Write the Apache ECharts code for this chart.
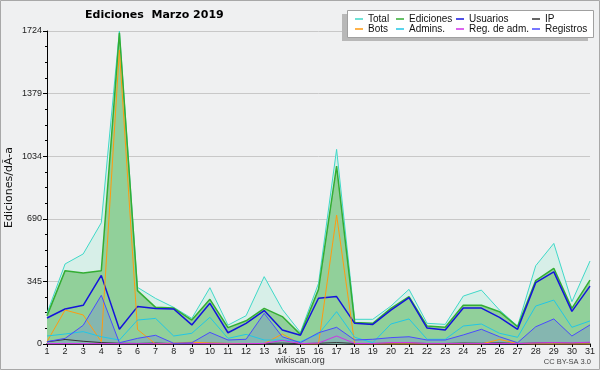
<!DOCTYPE html>
<html><head><meta charset="utf-8">
<script src="https://cdn.jsdelivr.net/npm/echarts@6/dist/echarts.min.js"></script>
<style>html,body{margin:0;padding:0;background:#eff0f1}#c{width:600px;height:370px}</style>
</head><body><div id="c"></div>
<script>
var days = ['1','2','3','4','5','6','7','8','9','10','11','12','13','14','15','16','17','18','19','20','21','22','23','24','25','26','27','28','29','30','31'];
var yTicks = [0, 345, 690, 1034, 1379, 1724];
var total     = [170, 441, 496, 668, 1724, 312, 251, 202, 141, 310, 104, 156, 371, 191, 64, 334, 1072, 136, 136, 209, 301, 114, 108, 264, 297, 187, 99, 431, 554, 233, 457];
var ediciones = [155, 404, 391, 404, 1714, 294, 202, 198, 132, 246, 90, 128, 196, 151, 53, 301, 980, 119, 114, 196, 261, 99, 92, 213, 213, 178, 95, 349, 417, 196, 352];
var usuarios  = [143, 193, 213, 378, 81, 206, 196, 193, 105, 224, 62, 114, 184, 77, 48, 252, 261, 114, 108, 187, 255, 88, 77, 198, 198, 147, 81, 338, 397, 180, 319];
var ip        = [12, 25, 15, 8, 4, 3, 5, 2, 3, 4, 3, 2, 3, 5, 2, 4, 8, 3, 3, 4, 5, 3, 3, 5, 4, 6, 3, 5, 6, 4, 5];
var bots      = [13, 187, 160, 13, 1619, 80, 0, 5, 10, 5, 3, 3, 2, 55, 0, 0, 710, 0, 0, 0, 0, 0, 0, 0, 0, 25, 3, 0, 0, 0, 0];
var admins    = [44, 55, 68, 40, 22, 132, 141, 44, 59, 147, 31, 53, 22, 22, 13, 55, 178, 37, 7, 110, 138, 26, 26, 99, 110, 59, 37, 209, 242, 92, 127];
var regAdm    = [2, 3, 2, 2, 2, 2, 2, 1, 2, 2, 1, 2, 3, 20, 2, 5, 44, 3, 2, 8, 8, 2, 2, 2, 2, 3, 2, 6, 8, 6, 10];
var registros = [13, 31, 103, 268, 7, 31, 48, 4, 7, 64, 22, 26, 169, 40, 7, 62, 92, 22, 26, 35, 40, 22, 22, 50, 81, 40, 7, 95, 138, 44, 105];

var chart = echarts.init(document.getElementById('c'), null, {renderer:'canvas'});
function ser(name, data, color, width, area, z) {
  var s = {name:name, type:'line', data:data, showSymbol:false, symbol:'none', z: z||2,
    lineStyle:{color:color, width:width}, itemStyle:{color:color}, animation:false};
  if (area) s.areaStyle = {color: area, opacity: 1};
  return s;
}
var lf = {fontFamily:'Liberation Sans', fontSize:10, color:'#111', lineHeight:10};
function lg(names, left) {
  return {data:names, orient:'vertical', left:left, top:14, itemGap:0, itemWidth:8, itemHeight:1.5,
    icon:'rect', textStyle:lf, padding:0, z:10, selectedMode:false};
}
chart.setOption({
  backgroundColor:'#eff0f1',
  animation:false,
  title:{text:'Ediciones  Marzo 2019', left:85, top:10, padding:0,
    textStyle:{fontFamily:'DejaVu Sans', fontWeight:'bold', fontSize:11, color:'#000'}},
  legend:[lg(['Total','Bots'],355), lg(['Ediciones','Admins.'],396), lg(['Usuarios','Reg. de adm.'],456), lg(['IP','Registros'],532)],
  grid:{left:47, right:10, top:31, bottom:26, containLabel:false, outerBoundsMode:'none'},
  xAxis:{type:'category', data:days, boundaryGap:false,
    axisLine:{lineStyle:{color:'#000', width:1.5}},
    axisTick:{length:3, lineStyle:{color:'#000'}},
    axisLabel:{margin:3, fontFamily:'Liberation Sans', fontSize:9, color:'#222', interval:0},
    splitLine:{show:false}},
  yAxis:{type:'value', min:0, max:yTicks[5], interval:yTicks[5]/5,
    name:'Ediciones/dÃ-a', nameLocation:'middle', nameGap:32, nameMoveOverlap:false,
    nameTextStyle:{fontFamily:'DejaVu Sans', fontSize:11, color:'#111'},
    axisLine:{show:true, lineStyle:{color:'#000', width:1}},
    axisTick:{show:true, length:4, lineStyle:{color:'#000'}},
    minorTick:{show:true, splitNumber:4, length:2, lineStyle:{color:'#000'}},
    axisLabel:{margin:5, fontFamily:'Liberation Sans', fontSize:9, color:'#222',
      formatter:function(v){ for (var i=0;i<yTicks.length;i++){ if (Math.abs(yTicks[i]-v)<1) return String(yTicks[i]); } return String(Math.round(v));} },
    splitLine:{show:true, lineStyle:{color:'#c8c8c8', width:1}}},
  series:[
    ser('Total', total, '#3fd8c8', 1, '#d7efe8', 1),
    ser('Ediciones', ediciones, '#33ad33', 1.5, 'rgba(60,170,60,0.45)', 2),
    ser('Usuarios', usuarios, '#1414dc', 1.5, null, 3),
    ser('IP', ip, '#333333', 1, null, 3),
    ser('Bots', bots, '#ff9a10', 1, null, 3),
    ser('Admins.', admins, '#22c6e6', 1, null, 3),
    ser('Reg. de adm.', regAdm, '#d030e8', 1, null, 3),
    ser('Registros', registros, '#4a4aff', 1, 'rgba(90,90,255,0.22)', 3)
  ],
  graphic:[
    {type:'rect', z:0, silent:true, shape:{x:0.5, y:0.5, width:599, height:369}, style:{fill:null, stroke:'#a8a8a8', lineWidth:1}},
    {type:'rect', z:5, silent:true, shape:{x:342, y:14, width:246, height:27}, style:{fill:'#b8b8b8'}},
    {type:'rect', z:6, silent:true, shape:{x:347.5, y:10.5, width:246, height:27}, style:{fill:'#ffffff', stroke:'#a0a0a0', lineWidth:1}},
    {type:'text', z:6, left:'center', top:356, style:{text:'wikiscan.org', font:'9px "Liberation Sans"', fill:'#333'}},
    {type:'text', z:6, right:9, top:358, style:{text:'CC BY-SA 3.0', font:'7.5px "Liberation Sans"', fill:'#444'}}
  ]
});
</script></body></html>
